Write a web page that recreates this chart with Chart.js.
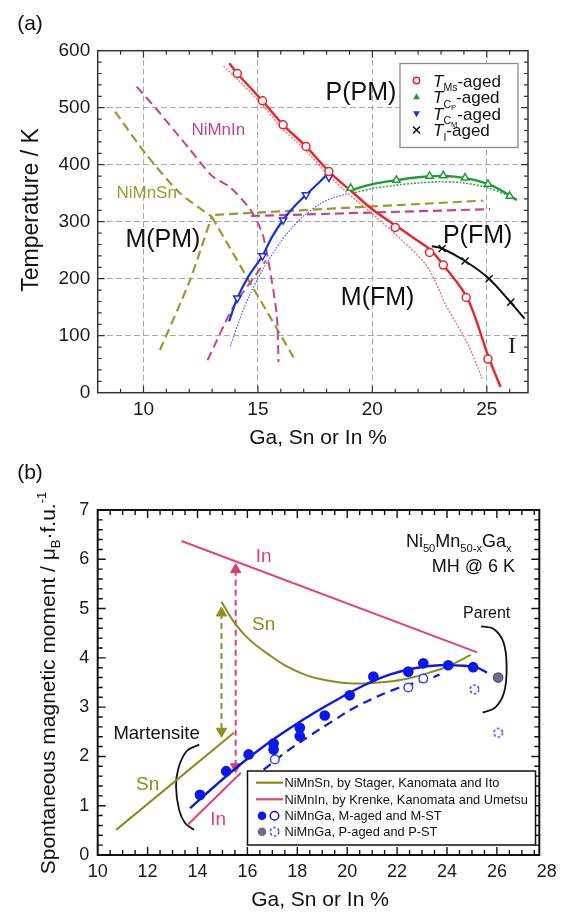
<!DOCTYPE html>
<html>
<head>
<meta charset="utf-8">
<script src="https://cdn.jsdelivr.net/npm/chart.js@4.4.0/dist/chart.umd.min.js"></script>
<style>
  body { margin: 0; background: #fff; width: 563px; height: 912px; overflow: hidden; position: relative; }
  .panel { position: absolute; left: 0; width: 563px; }
  #wrapA { top: 0; height: 456px; }
  #wrapB { top: 440px; height: 472px; }
</style>
</head>
<body>
<div class="panel" id="wrapA"><canvas id="chartA" width="563" height="456"></canvas></div>
<div class="panel" id="wrapB"><canvas id="chartB" width="563" height="472"></canvas></div>
<script>
// ---------- (a) transition temperatures ----------
const msX = [14.1, 15.2, 16.1, 17.1, 18.1, 21.0, 22.5, 23.1, 24.1, 25.05];
const msT = [560, 512, 470, 432, 388, 290, 246, 224, 167, 59];
const cpX = [19.05, 21.05, 22.5, 23.1, 24.05, 25.05, 26.0];
const cpT = [359, 373, 380, 381, 377, 366, 345];
const cmX = [14.1, 15.2, 16.1, 17.1, 18.1];
const cmT = [166, 240, 303, 347, 378];
const tiX = [23.05, 24.05, 25.1, 26.05];
const tiT = [253, 231, 200, 159];

// guide curves, [at.%, K]
const msAgedFit = [[13.75,578],[14.1,560],[15.2,512],[16.1,470],[17.1,432],[18.1,388],[19.1,353],[20.05,320],[21.15,290],[22.0,266],[22.55,250],[23.1,224],[24.15,166],[25.1,60],[25.6,10]];
const msStFit = [[13.5,573],[14.2,546],[15.2,505],[16.1,462],[17.1,425],[18.0,385],[18.75,356],[20.05,312],[21.2,271],[22.4,221],[23.25,151],[24.15,87],[24.8,25]];
const cpAgedFit = [[19.03,355],[20.0,366],[21.05,373],[22.0,378],[22.8,380],[23.6,379],[24.5,373],[25.3,362],[26.0,346],[26.3,338]];
const cpStFit = [[19.1,350],[20,358],[21,364],[22,368],[23,370],[24,368],[25,360],[26,345],[26.3,338]];
const cmAgedFit = [[13.74,125],[14.1,166],[14.6,205],[15.2,240],[15.6,272],[16.1,303],[16.6,327],[17.1,347],[17.6,366],[18.1,386]];
const cmStFit = [[13.8,82],[14.2,128],[14.6,168],[15.2,215],[16.0,265],[16.5,290],[17.0,310],[17.7,331],[18.3,342],[18.9,349]];
const tiAgedFit = [[22.6,257],[23.05,253],[24.05,231],[25.1,200],[26.05,158],[26.65,130]];

// NiMnIn / NiMnSn boundaries (dashed)
const inMart = [[9.7,537],[10.6,496],[12.0,428],[13.0,380],[13.8,360],[14.6,325],[14.95,302],[15.25,272],[15.6,198],[15.83,133],[15.9,54]];
const inTcM = [[12.8,57],[13.93,151],[14.95,209],[15.35,232]];
const inTcP = [[14.7,310],[25.15,322]];
const snMartHi = [[8.76,493],[10.14,417],[11.6,350],[12.98,309]];
const snMartLo = [[12.98,309],[16.63,57]];
const snTcM = [[10.72,75],[12.04,198],[12.98,309]];
const snTcP = [[13.13,312],[24.85,337]];

// ---------- (b) spontaneous magnetic moment ----------
const gaMX = [14.1, 15.15, 16.05, 17.05, 17.05, 18.1, 18.1, 19.1, 20.1, 21.05, 22.45, 23.05, 24.05, 25.05];
const gaMAged = [1.22, 1.70, 2.04, 2.26, 2.14, 2.58, 2.41, 2.83, 3.24, 3.62, 3.72, 3.89, 3.85, 3.81];
const gaSTX = [17.1, 22.45, 23.05];
const gaMST = [1.94, 3.40, 3.58];
const gaPX = [26.05];
const gaPAged = [3.60];
const gaPSTX = [25.1, 26.05];
const gaPST = [3.36, 2.48];

const gaMFit = [[13.7,0.95],[14.7,1.40],[15.7,1.83],[16.7,2.22],[17.7,2.57],[18.7,2.89],[19.7,3.18],[20.7,3.45],[21.7,3.66],[22.7,3.79],[23.7,3.85],[24.7,3.84],[25.2,3.80],[25.6,3.70]];
const gaSTFit = [[16.65,1.73],[17.6,2.11],[18.5,2.42],[19.3,2.68],[20.4,3.02],[21.9,3.36],[23.3,3.58],[23.7,3.66]];
const snParent = [[14.96,5.14],[15.5,4.70],[16.1,4.36],[16.9,4.05],[17.6,3.82],[18.4,3.64],[19.2,3.54],[20.2,3.48],[21.0,3.49],[21.9,3.53],[22.6,3.60],[23.3,3.70],[24.0,3.82],[24.95,4.06]];
const snMartB = [[10.74,0.51],[15.46,2.48]];
const inParent = [[13.36,6.37],[25.21,4.11]];
const inMartB = [[13.6,0.61],[15.74,1.67]];
const snArrowX = 14.96, snArrowY = [4.91, 2.51];
const inArrowX = 15.53, inArrowY = [5.79, 1.79];
const martBracket = [[14.07,2.24],[13.57,2.11],[13.24,1.77],[13.14,1.39],[13.26,0.92],[13.5,0.65],[13.86,0.51]];
const parentBracket = [[25.36,4.64],[25.86,4.59],[26.26,4.32],[26.39,3.84],[26.29,3.30],[25.93,2.99],[25.43,2.89]];

const FAM = "'Liberation Sans', Arial, Helvetica, sans-serif";
Chart.defaults.font.family = FAM;
Chart.defaults.color = '#1a1a1a';

const RED = '#e8262a', GREEN = '#1f9a35', BLUE = '#1a30e0', MAG = '#c4458a', OLIVE = '#99992e';
const OLIVE_B = '#8b8b1c', PINK_B = '#de437a', BLUE_B = '#0b18e6';

const xy = (xs, ys) => xs.map((x, i) => ({ x, y: ys[i] }));
const pr = arr => arr.map(p => ({ x: p[0], y: p[1] }));

function curve(arr, color, width, dash, tension) {
  return { data: pr(arr), showLine: true, borderColor: color, borderWidth: width, borderDash: dash || [],
    pointRadius: 0, tension: tension === undefined ? 0.3 : tension, fill: false };
}
function marks(data, color, style, opt) {
  return Object.assign({ data, showLine: false, pointStyle: style, pointRadius: 4, borderWidth: 1.5,
    pointBorderColor: color, pointBackgroundColor: '#fff' }, opt || {});
}

function dashedCircle(color, r) {
  const c = document.createElement('canvas');
  const s = Math.ceil(r * 2 + 4);
  c.width = c.height = s;
  const g = c.getContext('2d');
  g.strokeStyle = color; g.lineWidth = 1.6; g.setLineDash([2.6, 2]);
  g.beginPath(); g.arc(s / 2, s / 2, r, 0, Math.PI * 2); g.stroke();
  return c;
}

// text with italics / sub / superscripts; parts = [[text, kind], ...]
function rich(ctx, x, y, parts, size, color, align, rot) {
  const st = { n: [1, 0, ''], i: [1, 0, 'italic '], sub: [0.62, 0.28, ''], sub2: [0.45, 0.42, ''], sup: [0.62, -0.4, ''] };
  ctx.save();
  ctx.translate(x, y);
  if (rot) ctx.rotate(rot);
  ctx.fillStyle = color;
  ctx.textBaseline = 'alphabetic';
  ctx.textAlign = 'left';
  const font = k => { const s = st[k || 'n']; return s[2] + (size * s[0]) + 'px ' + FAM; };
  let w = 0;
  parts.forEach(p => { ctx.font = font(p[1]); w += ctx.measureText(p[0]).width; });
  let cx = align === 'center' ? -w / 2 : align === 'right' ? -w : 0;
  const base = size * 0.36;
  parts.forEach(p => {
    ctx.font = font(p[1]);
    ctx.fillText(p[0], cx, base + size * st[p[1] || 'n'][1]);
    cx += ctx.measureText(p[0]).width;
  });
  ctx.restore();
}

function frameTicks(chart, c) {
  const ctx = chart.ctx, a = chart.chartArea, xs = chart.scales.x, ys = chart.scales.y;
  const isMajor = (v, m) => Math.abs(v / m - Math.round(v / m)) < 1e-6;
  ctx.save();
  ctx.strokeStyle = c.color;
  ctx.lineWidth = c.width;
  ctx.strokeRect(a.left, a.top, a.right - a.left, a.bottom - a.top);
  ctx.lineWidth = c.tickWidth;
  ctx.beginPath();
  for (let i = 1; ; i++) {
    const v = c.x0 + i * c.xStep, p = xs.getPixelForValue(v);
    if (p > a.right - 0.5) break;
    const L = isMajor(v, c.xMajor) ? c.major : c.minor;
    ctx.moveTo(p, a.bottom); ctx.lineTo(p, a.bottom - L);
    ctx.moveTo(p, a.top); ctx.lineTo(p, a.top + L);
  }
  for (let i = 1; ; i++) {
    const v = c.y0 + i * c.yStep, p = ys.getPixelForValue(v);
    if (p < a.top + 0.5) break;
    const L = isMajor(v, c.yMajor) ? c.major : c.minor;
    ctx.moveTo(a.left, p); ctx.lineTo(a.left + L, p);
    ctx.moveTo(a.right, p); ctx.lineTo(a.right - L, p);
  }
  ctx.stroke();
  ctx.restore();
}

function drawMarker(ctx, kind, x, y, color) {
  ctx.save();
  ctx.strokeStyle = color; ctx.fillStyle = color; ctx.lineWidth = 1.5;
  ctx.beginPath();
  if (kind === 'circle') { ctx.arc(x, y, 3.2, 0, Math.PI * 2); ctx.stroke(); }
  else if (kind === 'up') { ctx.moveTo(x, y - 3.8); ctx.lineTo(x + 3.4, y + 2.2); ctx.lineTo(x - 3.4, y + 2.2); ctx.closePath(); ctx.fill(); }
  else if (kind === 'down') { ctx.moveTo(x, y + 3.8); ctx.lineTo(x + 3.4, y - 2.2); ctx.lineTo(x - 3.4, y - 2.2); ctx.closePath(); ctx.fill(); }
  else if (kind === 'x') { ctx.moveTo(x - 3.5, y - 3.5); ctx.lineTo(x + 3.5, y + 3.5); ctx.moveTo(x + 3.5, y - 3.5); ctx.lineTo(x - 3.5, y + 3.5); ctx.stroke(); }
  ctx.restore();
}

// ================= chart (a) =================
const decorA = {
  id: 'decorA',
  afterDraw(chart) {
    const ctx = chart.ctx, X = chart.scales.x, Y = chart.scales.y;
    frameTicks(chart, { color: '#333', width: 1.5, tickWidth: 1.2, major: 7, minor: 4,
      x0: 8, xStep: 1, xMajor: 5, y0: 0, yStep: 20, yMajor: 100 });
    const at = (x, y) => [X.getPixelForValue(x), Y.getPixelForValue(y)];
    const label = (t, x, y, size, color, fam) => {
      const p = at(x, y);
      ctx.save(); ctx.font = size + 'px ' + (fam || FAM); ctx.fillStyle = color;
      ctx.textAlign = 'center'; ctx.textBaseline = 'middle'; ctx.fillText(t, p[0], p[1]); ctx.restore();
    };
    label('P(PM)', 19.5, 525, 25, '#111');
    label('M(PM)', 10.85, 268, 25, '#111');
    label('M(FM)', 20.23, 166, 25, '#111');
    label('P(FM)', 24.6, 274, 25, '#111');
    label('NiMnIn', 13.27, 461, 17, '#c0468a');
    label('NiMnSn', 10.14, 350, 17, '#9a9a30');
    label('I', 26.1, 81, 24, '#222', "'Liberation Serif', 'DejaVu Serif', serif");

    // legend
    ctx.save();
    ctx.fillStyle = '#fff'; ctx.strokeStyle = '#8a8a8a'; ctx.lineWidth = 1.3;
    ctx.fillRect(400, 63.5, 118, 84); ctx.strokeRect(400, 63.5, 118, 84);
    ctx.restore();
    const rows = [
      ['circle', RED, [['T', 'i'], ['Ms', 'sub'], ['-aged']]],
      ['up', GREEN, [['T', 'i'], ['C', 'sub'], ['P', 'sub2'], ['-aged']]],
      ['down', BLUE, [['T', 'i'], ['C', 'sub'], ['M', 'sub2'], ['-aged']]],
      ['x', '#111', [['T', 'i'], ['I', 'sub'], ['-aged']]]
    ];
    rows.forEach((r, i) => {
      const yy = 80.5 + i * 16.5;
      drawMarker(ctx, r[0], 416.5, yy, r[1]);
      rich(ctx, 433, yy, r[2], 17, '#111', 'left');
    });

    // titles
    rich(ctx, 30, 210, [['Temperature / K']], 23, '#111', 'center', -Math.PI / 2);
    rich(ctx, 318, 436, [['Ga, Sn or In %']], 21, '#111', 'center');
    rich(ctx, 30, 22, [['(a)']], 21, '#111', 'center');
  }
};

new Chart(document.getElementById('chartA'), {
  type: 'scatter',
  data: {
    datasets: [
      marks(xy(msX, msT), RED, 'circle', { pointRadius: 4 }),
      marks(xy(cpX, cpT), GREEN, 'triangle', { pointRadius: 4.2 }),
      marks(xy(cmX, cmT), BLUE, 'triangle', { pointRadius: 4.2, pointRotation: 180 }),
      marks(xy(tiX, tiT), '#111', 'crossRot', { pointRadius: 5 }),
      curve(msAgedFit, RED, 2.4),
      curve(cpAgedFit, GREEN, 2.4),
      curve(cmAgedFit, BLUE, 2.2),
      curve(tiAgedFit, '#111', 2),
      curve(msStFit, '#f06a6a', 1.3, [2, 1.5]),
      curve(cpStFit, '#3aa84a', 1.6, [2, 1.5]),
      curve(cmStFit, '#4a5ae8', 1.2, [1.5, 1.5]),
      curve(inMart, MAG, 2, [9, 5], 0.25),
      curve(inTcM, MAG, 2, [9, 5], 0.25),
      curve(inTcP, MAG, 2.2, [9, 5], 0),
      curve(snMartHi, OLIVE, 2.2, [9, 5], 0.25),
      curve(snMartLo, OLIVE, 2.2, [9, 5], 0),
      curve(snTcM, OLIVE, 2.2, [9, 5], 0.2),
      curve(snTcP, OLIVE, 2.2, [9, 5], 0)
    ]
  },
  options: {
    responsive: false, animation: false, events: [],
    layout: { padding: { left: 0, top: 50.7, right: 35, bottom: 0 } },
    plugins: { legend: { display: false }, tooltip: { enabled: false } },
    scales: {
      x: {
        type: 'linear', min: 8, max: 26.8,
        afterFit: s => { s.height = 63.3; },
        ticks: { stepSize: 5, includeBounds: false, padding: 6, font: { size: 19 }, color: '#1a1a1a' },
        grid: { color: '#a9a9a9', lineWidth: 1, drawTicks: false },
        border: { display: false, dash: [6, 3] }
      },
      y: {
        type: 'linear', min: 0, max: 600,
        afterFit: s => { s.width = 97.7; },
        ticks: { stepSize: 100, padding: 7.5, font: { size: 19 }, color: '#1a1a1a' },
        grid: { color: '#a9a9a9', lineWidth: 1, drawTicks: false },
        border: { display: false, dash: [6, 3] }
      }
    }
  },
  plugins: [decorA]
});

// ================= chart (b) =================
const pstMark = dashedCircle('#3a48ee', 4.3);

const decorB = {
  id: 'decorB',
  afterDraw(chart) {
    const ctx = chart.ctx, X = chart.scales.x, Y = chart.scales.y;
    frameTicks(chart, { color: '#111', width: 2, tickWidth: 1.4, major: 8, minor: 5,
      x0: 10, xStep: 0.5, xMajor: 2, y0: 0, yStep: 0.2, yMajor: 1 });
    const at = (x, y) => [X.getPixelForValue(x), Y.getPixelForValue(y)];
    const say = (parts, x, y, size, color, align) => { const p = at(x, y); rich(ctx, p[0], p[1], parts, size, color, align || 'center'); };
    say([['Ni'], ['50', 'sub'], ['Mn'], ['50-x', 'sub'], ['Ga'], ['x', 'sub']], 26.59, 6.39, 18, '#111', 'right');
    say([['MH @ 6 K']], 26.73, 5.88, 18, '#111', 'right');
    say([['In']], 16.65, 6.09, 19, PINK_B);
    say([['Sn']], 16.65, 4.71, 19, OLIVE_B);
    say([['Parent']], 25.59, 4.92, 16, '#111');
    say([['Martensite']], 12.36, 2.48, 18.5, '#111');
    say([['Sn']], 12.0, 1.45, 19, OLIVE_B);
    say([['In']], 14.83, 0.74, 19, PINK_B);

    // legend
    ctx.save();
    ctx.fillStyle = '#fff'; ctx.strokeStyle = '#111'; ctx.lineWidth = 1.5;
    ctx.fillRect(247.5, 331, 288, 74); ctx.strokeRect(247.5, 331, 288, 74);
    const ly = [342.7, 359.3, 375.7, 391.7];
    ctx.lineWidth = 2.2;
    ctx.strokeStyle = OLIVE_B; ctx.beginPath(); ctx.moveTo(256, ly[0]); ctx.lineTo(283, ly[0]); ctx.stroke();
    ctx.strokeStyle = PINK_B; ctx.beginPath(); ctx.moveTo(256, ly[1]); ctx.lineTo(283, ly[1]); ctx.stroke();
    ctx.fillStyle = BLUE_B; ctx.beginPath(); ctx.arc(262, ly[2], 4.3, 0, Math.PI * 2); ctx.fill();
    ctx.strokeStyle = BLUE_B; ctx.lineWidth = 1.5; ctx.beginPath(); ctx.arc(274.5, ly[2], 4.3, 0, Math.PI * 2); ctx.stroke();
    ctx.fillStyle = '#6e6e88'; ctx.beginPath(); ctx.arc(262, ly[3], 4.3, 0, Math.PI * 2); ctx.fill();
    ctx.drawImage(pstMark, 274.5 - pstMark.width / 2, ly[3] - pstMark.height / 2);
    ctx.restore();
    const names = ['NiMnSn, by Stager, Kanomata and Ito', 'NiMnIn, by Krenke, Kanomata and Umetsu',
      'NiMnGa, M-aged and M-ST', 'NiMnGa, P-aged and P-ST'];
    names.forEach((t, i) => rich(ctx, 284.5, ly[i], [[t]], 12.8, '#111', 'left'));

    // titles
    rich(ctx, 47, 243, [['Spontaneous magnetic moment / μ'], ['B', 'sub'], ['·f.u.'], ['-1', 'sup']], 21, '#111', 'center', -Math.PI / 2);
    rich(ctx, 320, 458, [['Ga, Sn or In %']], 21, '#111', 'center');
    rich(ctx, 30, 31, [['(b)']], 21, '#111', 'center');
  }
};

function arrow(x, ys, color) {
  return { data: ys.map(y => ({ x, y })), showLine: true, borderColor: color, borderWidth: 2, borderDash: [6, 4],
    pointStyle: 'triangle', pointRadius: 6, pointRotation: [0, 180], pointBackgroundColor: color,
    pointBorderColor: color, pointBorderWidth: 1 };
}

new Chart(document.getElementById('chartB'), {
  type: 'scatter',
  data: {
    datasets: [
      marks(xy(gaMX, gaMAged), BLUE_B, 'circle', { pointRadius: 4.6, pointBackgroundColor: BLUE_B }),
      marks(xy(gaSTX, gaMST), '#3a48ee', 'circle', { pointRadius: 4.3 }),
      marks(xy(gaPX, gaPAged), '#55557a', 'circle', { pointRadius: 4.6, pointBackgroundColor: '#6e6e88' }),
      marks(xy(gaPSTX, gaPST), '#3a48ee', pstMark),
      curve(gaMFit, BLUE_B, 2.4, [], 0.35),
      curve(gaSTFit, BLUE_B, 2.2, [9, 6], 0.35),
      curve(snParent, OLIVE_B, 2, [], 0.35),
      curve(snMartB, OLIVE_B, 2, [], 0),
      curve(inParent, PINK_B, 2, [], 0),
      curve(inMartB, PINK_B, 2, [], 0),
      arrow(snArrowX, snArrowY, '#8f8f1e'),
      arrow(inArrowX, inArrowY, '#d4417c'),
      curve(martBracket, '#111', 1.8, [], 0.4),
      curve(parentBracket, '#111', 1.8, [], 0.4)
    ]
  },
  options: {
    responsive: false, animation: false, events: [],
    layout: { padding: { left: 0, top: 70, right: 23.7, bottom: 0 } },
    plugins: { legend: { display: false }, tooltip: { enabled: false } },
    scales: {
      x: {
        type: 'linear', min: 10, max: 27.7,
        afterFit: s => { s.height = 57; },
        afterBuildTicks: s => { s.ticks.push({ value: 28 }); },
        ticks: { stepSize: 2, includeBounds: false, autoSkip: false, maxRotation: 0, padding: 6, font: { size: 18 }, color: '#1a1a1a' },
        grid: { display: false, drawTicks: false },
        border: { display: false }
      },
      y: {
        type: 'linear', min: 0, max: 7,
        afterFit: s => { s.width = 97.7; },
        ticks: { stepSize: 1, padding: 8.5, font: { size: 18 }, color: '#1a1a1a' },
        grid: { display: false, drawTicks: false },
        border: { display: false }
      }
    }
  },
  plugins: [decorB]
});
</script>
</body>
</html>
